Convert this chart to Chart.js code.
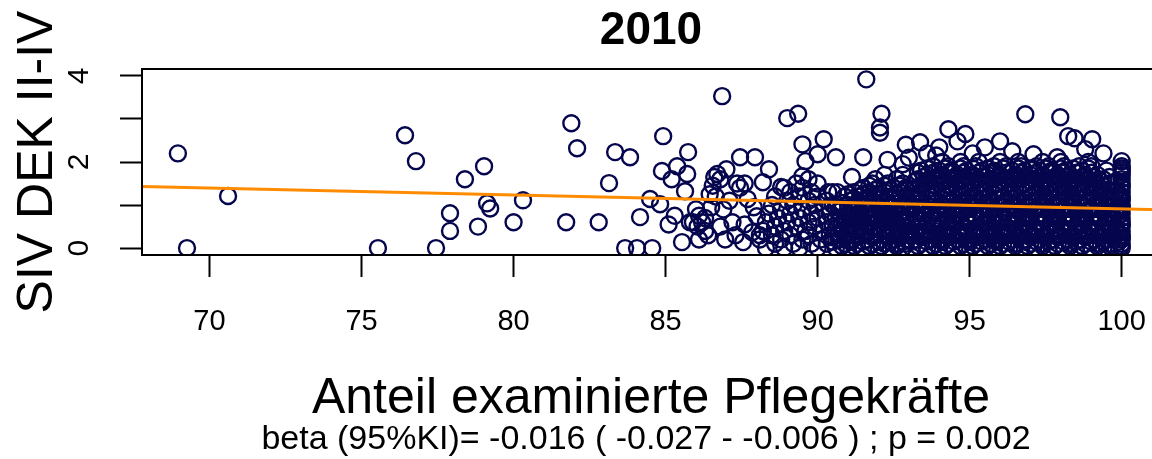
<!DOCTYPE html>
<html lang="de">
<head>
<meta charset="utf-8">
<title>2010</title>
<script src="https://cdn.jsdelivr.net/npm/chart.js@4/dist/chart.umd.min.js"></script>
<style>
    html, body { margin: 0; padding: 0; background: #fff; }
    .chart-wrap { width: 1152px; height: 459px; overflow: hidden; position: relative; }
    canvas { display: block; }
</style>
</head>
<body>
<div class="chart-wrap">
    <canvas id="sivChart" width="1172" height="459"></canvas>
</div>
<script>
// Achsen
const xTicks = [70, 75, 80, 85, 90, 95, 100];
const yTicks = [0, 1, 2, 3, 4];
const yTickLabels = [0, 2, 4];

// einzelne Einrichtungen (x = Anteil examinierte Pflegekräfte, y = SIV DEK II-IV)
const sparsePoints = [
    [68.96, 2.2], [69.26, 0], [70.61, 1.21], [75.54, 0], [76.43, 2.62], [76.79, 2.02],
    [77.45, 0], [77.91, 0.81], [77.91, 0.4], [78.4, 1.6], [78.83, 0.5], [79.03, 1.9],
    [79.13, 1.04], [79.23, 0.92], [80.0, 0.6], [80.31, 1.11], [81.73, 0.6], [81.9, 2.9],
    [82.09, 2.32], [82.8, 0.6], [83.14, 1.51], [83.34, 2.23], [83.83, 2.11], [83.67, 0],
    [84.06, 0], [84.56, 0], [84.16, 0.72], [84.49, 1.14], [84.82, 1.02], [84.92, 2.6],
    [84.88, 1.79], [85.38, 1.9], [85.74, 2.23], [85.2, 1.6], [85.71, 1.72], [85.64, 1.32],
    [85.54, 0.14], [86.86, 3.53], [86.1, 0.75], [86.2, 0.6], [85.9, 0.6], [86.3, 0.4],
    [86.05, 0.5], [86.4, 0.3], [86.1, 0.2], [86.5, 0.95], [86.45, 1.25], [86.6, 1.65],
    [86.7, 1.72], [86.8, 1.6], [86.55, 1.45], [86.65, 1.2], [87.0, 1.83], [87.45, 2.11],
    [87.94, 2.11], [87.35, 1.5], [87.6, 1.5], [87.45, 1.4], [86.96, 0.2], [87.55, 0.14],
    [86.8, 0.5], [88.0, 0.74], [87.85, 0.37], [87.7, 1.14], [85.8, 0.6], [86.3, 0.7],
    [86.9, 0.9], [87.2, 0.6], [87.3, 0.3], [87.6, 0.55], [87.9, 0.95], [88.1, 0.3],
    [87.1, 1.1], [86.0, 0.9], [85.3, 0.75], [85.1, 0.55]
];

const upperPoints = [
    [89.0, 3.02], [89.36, 3.12], [89.5, 2.41], [90.2, 2.53], [90.0, 2.18], [89.6, 2.02],
    [90.6, 2.11], [91.5, 2.11], [88.4, 1.83], [88.2, 1.53], [88.8, 1.42], [89.5, 1.67],
    [90.35, 1.3], [90.5, 1.3], [90.65, 1.3], [91.13, 1.65], [91.6, 3.92], [92.1, 3.12],
    [92.05, 2.8], [92.05, 2.68], [92.3, 2.05], [92.8, 1.95], [93.37, 2.46], [94.0, 2.34],
    [94.3, 2.76], [94.6, 2.48], [94.86, 2.65], [95.5, 2.34], [96.0, 2.48], [96.83, 3.11],
    [97.1, 2.18], [97.88, 2.11], [97.98, 3.04], [98.24, 2.6], [98.45, 2.55], [99.03, 2.53],
    [98.8, 2.3], [93.0, 2.1], [93.6, 2.2], [95.1, 2.2], [96.4, 2.25], [99.4, 2.2],
    [92.9, 2.4], [93.9, 2.15], [100, 2.02]
];

// dichter Bereich, zeilenweise: [y, x-Werte]
const midRows = [
    [0.0, [88.3, 88.9, 89.4, 90.0, 90.6, 91.0, 91.5, 92.0, 92.4, 92.8]],
    [0.1, [88.6, 89.2, 89.8, 90.3, 90.9, 91.3, 91.8, 92.2, 92.6, 92.9]],
    [0.2, [88.1, 88.8, 89.5, 90.1, 90.7, 91.1, 91.6, 92.1, 92.5, 92.9]],
    [0.3, [88.5, 89.1, 89.7, 90.4, 91.0, 91.4, 91.9, 92.3, 92.7]],
    [0.4, [88.2, 88.9, 89.6, 90.2, 90.8, 91.2, 91.7, 92.1, 92.5, 92.9]],
    [0.5, [88.6, 89.3, 89.9, 90.5, 91.0, 91.5, 92.0, 92.4, 92.8]],
    [0.6, [88.3, 89.0, 89.7, 90.3, 90.9, 91.3, 91.8, 92.2, 92.6]],
    [0.7, [88.7, 89.4, 90.0, 90.6, 91.1, 91.6, 92.0, 92.5, 92.9]],
    [0.8, [88.4, 89.1, 89.8, 90.4, 91.0, 91.4, 91.9, 92.3, 92.7]],
    [0.9, [88.8, 89.5, 90.2, 90.8, 91.2, 91.7, 92.1, 92.6]],
    [1.0, [88.5, 89.2, 89.9, 90.5, 91.0, 91.5, 92.0, 92.4, 92.8]],
    [1.1, [89.0, 89.7, 90.3, 91.1, 91.6, 92.2, 92.6]],
    [1.2, [88.6, 89.4, 90.0, 90.9, 91.4, 91.9, 92.4, 92.9]],
    [1.3, [89.1, 89.8, 91.2, 91.7, 92.2, 92.7]],
    [1.4, [88.9, 89.5, 91.5, 92.0, 92.5, 92.9]],
    [1.5, [89.3, 90.0, 91.8, 92.3, 92.8]],
    [1.6, [89.7, 91.9, 92.6]],
    [1.7, [92.2, 92.8]]
];

const midRowsB = [
    [0.05, [90.8, 91.2, 91.7, 92.1, 92.6]],
    [0.15, [90.5, 91.1, 91.5, 92.0, 92.4, 92.8]],
    [0.25, [90.5, 90.9, 91.3, 91.8, 92.3, 92.7]],
    [0.35, [90.7, 91.1, 91.6, 92.0, 92.5, 92.9]],
    [0.45, [90.6, 91.0, 91.4, 91.9, 92.3, 92.7]],
    [0.55, [90.8, 91.2, 91.7, 92.1, 92.6]],
    [0.65, [90.7, 91.1, 91.5, 92.0, 92.4, 92.8]],
    [0.75, [91.0, 91.4, 91.8, 92.3, 92.7]],
    [0.85, [90.7, 91.2, 91.6, 92.1, 92.5, 92.9]],
    [0.95, [90.6, 91.1, 91.5, 92.0, 92.4, 92.8]],
    [1.05, [90.8, 91.3, 91.8, 92.2, 92.7]],
    [1.15, [91.2, 91.7, 92.1, 92.5]],
    [1.25, [91.0, 91.5, 92.0, 92.6]],
    [1.35, [91.4, 91.9, 92.4, 92.9]],
    [1.45, [91.7, 92.2, 92.7]]
];

const denseRows = [
    [0.0, [93.1, 93.6, 94.0, 94.5, 94.9, 95.4, 95.8, 96.3, 96.7, 97.2, 97.6, 98.1, 98.5, 99.0, 99.4, 99.8, 100]],
    [0.1, [93.4, 93.9, 94.3, 94.8, 95.2, 95.7, 96.1, 96.5, 97.0, 97.4, 97.9, 98.3, 98.8, 99.2, 99.6, 100]],
    [0.2, [93.2, 93.7, 94.1, 94.6, 95.0, 95.5, 95.9, 96.4, 96.8, 97.3, 97.7, 98.2, 98.6, 99.1, 99.5, 100]],
    [0.3, [93.5, 94.0, 94.4, 94.9, 95.3, 95.8, 96.2, 96.6, 97.1, 97.5, 98.0, 98.4, 98.9, 99.3, 99.7, 100]],
    [0.4, [93.0, 93.6, 94.2, 94.7, 95.1, 95.6, 96.0, 96.5, 96.9, 97.4, 97.8, 98.3, 98.7, 99.2, 99.6, 100]],
    [0.5, [93.3, 93.8, 94.3, 94.8, 95.3, 95.7, 96.2, 96.7, 97.1, 97.6, 98.0, 98.5, 98.9, 99.4, 99.8, 100]],
    [0.6, [93.1, 93.6, 94.1, 94.5, 95.0, 95.5, 95.9, 96.4, 96.8, 97.3, 97.7, 98.2, 98.6, 99.1, 99.5, 100]],
    [0.7, [93.4, 93.9, 94.4, 94.9, 95.2, 95.7, 96.1, 96.6, 97.0, 97.5, 97.9, 98.4, 98.8, 99.3, 99.7, 100]],
    [0.8, [93.2, 93.7, 94.2, 94.6, 95.1, 95.6, 96.0, 96.5, 96.9, 97.4, 97.8, 98.3, 98.7, 99.2, 99.6, 100]],
    [0.9, [93.5, 94.0, 94.5, 94.9, 95.4, 95.8, 96.3, 96.7, 97.2, 97.6, 98.1, 98.5, 99.0, 99.4, 99.8, 100]],
    [1.0, [93.0, 93.6, 94.1, 94.6, 95.0, 95.5, 96.0, 96.4, 96.9, 97.3, 97.8, 98.2, 98.7, 99.1, 99.5, 100]],
    [1.1, [93.3, 93.8, 94.3, 94.8, 95.3, 95.7, 96.2, 96.6, 97.1, 97.5, 98.0, 98.4, 98.9, 99.3, 99.7, 100]],
    [1.2, [93.1, 93.7, 94.2, 94.7, 95.1, 95.6, 96.1, 96.5, 97.0, 97.4, 97.9, 98.3, 98.8, 99.2, 99.6, 100]],
    [1.3, [93.4, 93.9, 94.4, 94.9, 95.4, 95.9, 96.3, 96.8, 97.2, 97.7, 98.1, 98.6, 99.0, 99.4, 99.8, 100]],
    [1.4, [93.2, 93.7, 94.2, 94.6, 95.2, 95.6, 96.0, 96.5, 97.0, 97.5, 97.9, 98.4, 98.8, 99.3, 100]],
    [1.5, [93.5, 94.0, 94.5, 95.0, 95.4, 95.9, 96.3, 96.8, 97.3, 97.7, 98.2, 98.6, 99.1, 99.6, 100]],
    [1.6, [93.3, 93.8, 94.3, 94.8, 95.3, 95.7, 96.2, 96.6, 97.1, 97.6, 98.0, 98.5, 98.9, 99.4, 100]],
    [1.7, [93.6, 94.1, 94.6, 95.1, 95.6, 96.0, 96.5, 97.0, 97.4, 97.9, 98.3, 98.8, 99.2, 100]],
    [1.8, [93.4, 94.0, 94.4, 94.9, 95.4, 95.8, 96.4, 96.8, 97.3, 97.7, 98.2, 98.7, 99.5, 100]],
    [1.9, [93.8, 94.3, 94.8, 95.2, 95.8, 96.2, 96.7, 97.2, 97.6, 98.1, 98.6, 99.0, 100]],
    [2.0, [94.1, 94.7, 95.3, 96.0, 96.6, 97.4, 98.0, 98.9]]
];

const denseRowsB = [
    [0.05, [93.3, 93.8, 94.2, 94.7, 95.1, 95.6, 96.0, 96.5, 96.9, 97.4, 97.8, 98.3, 98.7, 99.2, 99.6, 100]],
    [0.15, [93.1, 93.6, 94.1, 94.5, 95.0, 95.4, 95.9, 96.3, 96.8, 97.2, 97.6, 98.1, 98.5, 99.0, 99.4, 99.9]],
    [0.25, [93.4, 93.9, 94.3, 94.8, 95.2, 95.7, 96.1, 96.6, 97.0, 97.5, 97.9, 98.4, 98.8, 99.3, 99.7, 100]],
    [0.35, [93.2, 93.7, 94.2, 94.6, 95.1, 95.5, 96.0, 96.4, 96.9, 97.3, 97.7, 98.2, 98.6, 99.1, 99.5, 99.9]],
    [0.45, [93.5, 94.0, 94.4, 94.9, 95.4, 95.8, 96.3, 96.7, 97.2, 97.6, 98.1, 98.5, 99.0, 99.4, 99.8]],
    [0.55, [93.1, 93.6, 94.0, 94.5, 95.0, 95.5, 95.9, 96.4, 96.9, 97.3, 97.8, 98.2, 98.7, 99.1, 99.6, 100]],
    [0.65, [93.3, 93.8, 94.3, 94.7, 95.2, 95.6, 96.1, 96.5, 97.0, 97.5, 97.9, 98.4, 98.8, 99.3, 99.7]],
    [0.75, [93.0, 93.5, 94.0, 94.5, 94.9, 95.4, 95.8, 96.3, 96.8, 97.2, 97.7, 98.1, 98.6, 99.0, 99.5, 99.9]],
    [0.85, [93.4, 93.9, 94.4, 94.8, 95.3, 95.7, 96.2, 96.6, 97.1, 97.6, 98.0, 98.5, 98.9, 99.4, 99.8]],
    [0.95, [93.2, 93.7, 94.2, 94.7, 95.1, 95.6, 96.1, 96.5, 97.0, 97.4, 97.9, 98.3, 98.8, 99.2, 99.7, 100]],
    [1.05, [93.4, 93.9, 94.4, 94.9, 95.3, 95.8, 96.2, 96.7, 97.1, 97.6, 98.0, 98.5, 98.9, 99.4, 99.8]],
    [1.15, [93.1, 93.6, 94.1, 94.5, 95.0, 95.5, 95.9, 96.4, 96.8, 97.3, 97.7, 98.2, 98.6, 99.1, 99.5, 100]],
    [1.25, [93.3, 93.8, 94.3, 94.8, 95.3, 95.8, 96.3, 96.7, 97.2, 97.6, 98.1, 98.5, 99.0, 99.4, 99.9]],
    [1.35, [93.1, 93.6, 94.1, 94.6, 95.0, 95.5, 96.0, 96.4, 96.9, 97.4, 97.8, 98.3, 98.7, 99.2, 99.6]],
    [1.45, [93.4, 93.9, 94.4, 94.8, 95.3, 95.8, 96.2, 96.7, 97.1, 97.6, 98.1, 98.5, 99.0, 99.4, 100]],
    [1.55, [93.2, 93.7, 94.2, 94.7, 95.1, 95.6, 96.1, 96.5, 97.0, 97.5, 97.9, 98.4, 98.8, 99.3, 99.8]],
    [1.65, [93.5, 94.0, 94.5, 95.0, 95.5, 95.9, 96.4, 96.8, 97.3, 97.8, 98.2, 98.7, 99.1, 99.6]],
    [1.75, [93.3, 93.8, 94.3, 94.8, 95.3, 95.8, 96.2, 96.7, 97.2, 97.6, 98.1, 98.5, 99.0, 100]],
    [1.85, [93.6, 94.2, 94.7, 95.1, 95.6, 96.1, 96.6, 97.0, 97.5, 98.0, 98.4, 98.9, 100]]
];

// Regressionsgerade (Endpunkte am Rand des Plotbereichs)
const fitLine = [[67.78, 1.43], [101.3, 0.89]];

const chartTitle = '2010';
const xTitle = 'Anteil examinierte Pflegekräfte';
const yTitle = 'SIV DEK II-IV';
const subTitle = 'beta (95%KI)= -0.016 ( -0.027 - -0.006 ) ; p = 0.002';

class SivChart {
    constructor(canvasId) {
        this.canvas = document.getElementById(canvasId);
        this.points = this.buildPoints();
        this.createChart();
    }

    buildPoints() {
        const pts = sparsePoints.concat(upperPoints).map(p => ({ x: p[0], y: p[1] }));
        [midRows, midRowsB, denseRows, denseRowsB].forEach(rows => {
            rows.forEach(([y, xs]) => {
                xs.forEach(x => pts.push({ x: x, y: y }));
            });
        });
        return pts;
    }

    textPlugin() {
        return {
            id: 'rText',
            afterDraw(chart) {
                const ctx = chart.ctx;
                const area = chart.chartArea;
                const xs = chart.scales.x;
                const ys = chart.scales.y;
                const midX = (area.left + area.right) / 2;

                ctx.save();
                ctx.strokeStyle = '#000';
                ctx.lineWidth = 2;
                ctx.strokeRect(area.left, area.top, area.right - area.left, area.bottom - area.top);

                ctx.fillStyle = '#000';
                ctx.textAlign = 'center';
                ctx.textBaseline = 'middle';
                ctx.font = '29px "Liberation Sans", Arial, sans-serif';
                xTicks.forEach(v => ctx.fillText(String(v), xs.getPixelForValue(v), 322));

                ctx.font = '30px "Liberation Sans", Arial, sans-serif';
                yTickLabels.forEach(v => {
                    ctx.save();
                    ctx.translate(80, ys.getPixelForValue(v));
                    ctx.rotate(-Math.PI / 2);
                    ctx.fillText(String(v), 0, 0);
                    ctx.restore();
                });

                ctx.font = 'bold 46px "Liberation Sans", Arial, sans-serif';
                ctx.fillText(chartTitle, midX, 31);

                ctx.textBaseline = 'alphabetic';
                ctx.font = '50px "Liberation Sans", Arial, sans-serif';
                ctx.fillText(xTitle, midX, 413);

                ctx.font = '34px "Liberation Sans", Arial, sans-serif';
                ctx.fillText(subTitle, 646, 449);

                ctx.save();
                ctx.translate(52, (area.top + area.bottom) / 2);
                ctx.rotate(-Math.PI / 2);
                ctx.font = '50px "Liberation Sans", Arial, sans-serif';
                ctx.fillText(yTitle, 0, 0);
                ctx.restore();

                ctx.restore();
            }
        };
    }

    createChart() {
        const axisGrid = {
            display: true,
            drawOnChartArea: false,
            drawTicks: true,
            tickLength: 22,
            tickWidth: 2,
            tickColor: '#000'
        };

        this.chart = new Chart(this.canvas.getContext('2d'), {
            type: 'scatter',
            data: {
                datasets: [
                    {
                        type: 'line',
                        data: fitLine.map(p => ({ x: p[0], y: p[1] })),
                        borderColor: '#ff8c00',
                        borderWidth: 3,
                        pointRadius: 0,
                        fill: false,
                        clip: 0
                    },
                    {
                        data: this.points,
                        pointStyle: 'circle',
                        pointRadius: 8,
                        borderWidth: 2.4,
                        borderColor: '#06064e',
                        backgroundColor: 'rgba(0,0,0,0)',
                        clip: 0
                    }
                ]
            },
            options: {
                responsive: false,
                animation: false,
                devicePixelRatio: 1,
                layout: { padding: { left: 120, top: 69, bottom: 182, right: 12 } },
                plugins: {
                    legend: { display: false },
                    tooltip: { enabled: false }
                },
                scales: {
                    x: {
                        type: 'linear',
                        min: 67.78,
                        max: 101.26,
                        afterBuildTicks: s => { s.ticks = xTicks.map(v => ({ value: v })); },
                        ticks: { display: false },
                        grid: axisGrid,
                        border: { display: false }
                    },
                    y: {
                        type: 'linear',
                        min: -0.16,
                        max: 4.16,
                        afterBuildTicks: s => { s.ticks = yTicks.map(v => ({ value: v })); },
                        ticks: { display: false },
                        grid: axisGrid,
                        border: { display: false }
                    }
                }
            },
            plugins: [this.textPlugin()]
        });
    }
}

window.addEventListener('load', () => {
    new SivChart('sivChart');
});
</script>
</body>
</html>
